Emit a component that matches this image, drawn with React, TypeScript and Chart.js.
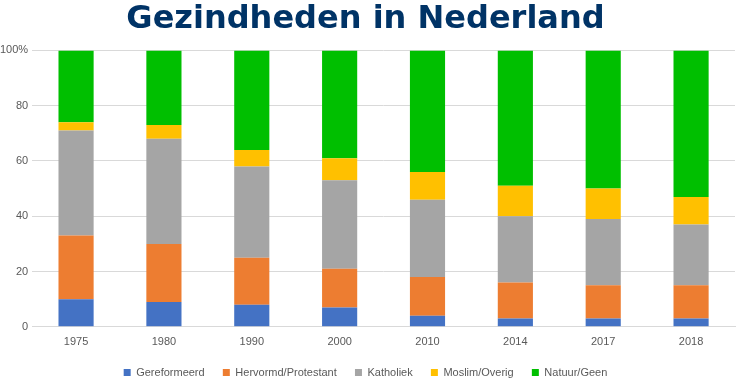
import React, { useEffect, useRef } from "react";
import { Chart, registerables } from "chart.js";

Chart.register(...registerables);

const categories = ["1975", "1980", "1990", "2000", "2010", "2014", "2017", "2018"];
const gereformeerd = [10, 9, 8, 7, 4, 3, 3, 3];
const hervormd = [23, 21, 17, 14, 14, 13, 12, 12];
const katholiek = [38, 38, 33, 32, 28, 24, 24, 22];
const moslim = [3, 5, 6, 8, 10, 11, 11, 10];
const natuur = [26, 27, 36, 39, 44, 49, 50, 53];
const seriesNames = ["Gereformeerd", "Hervormd/Protestant", "Katholiek", "Moslim/Overig", "Natuur/Geen"];
const seriesColors = ["#4472C4", "#ED7D31", "#A5A5A5", "#FFC000", "#00BF00"];
const titleText = "Gezindheden in Nederland";

export default function App() {
  const ref = useRef<HTMLCanvasElement | null>(null);
  useEffect(() => {
    document.body.style.margin = "0";
    if (!ref.current) return;
    const values = [gereformeerd, hervormd, katholiek, moslim, natuur];
    const chart = new Chart(ref.current, {
      type: "bar",
      data: {
        labels: categories,
        datasets: values.map((v, i) => ({
          label: seriesNames[i],
          data: v,
          backgroundColor: seriesColors[i],
          borderWidth: 0,
          categoryPercentage: 1,
          barPercentage: 0.4,
        })),
      },
      options: {
        animation: false,
        responsive: false,
        maintainAspectRatio: false,
        layout: { padding: { left: -4, right: 1, top: 0, bottom: -3 } },
        plugins: {
          title: {
            display: true,
            text: titleText,
            color: "#003366",
            font: { family: "DejaVu Sans", size: 32, weight: "bold" },
            padding: { top: 0, bottom: 12 },
          },
          legend: {
            position: "bottom",
            labels: {
              boxWidth: 7,
              boxHeight: 7,
              padding: 9,
              color: "#595959",
              font: { family: "Liberation Sans", size: 11 },
              generateLabels: (c: any) => {
                const items = Chart.defaults.plugins.legend.labels.generateLabels(c);
                return items.map((it: any, i: number) => ({
                  ...it,
                  text: i < items.length - 1 ? it.text + "   " : it.text,
                  lineWidth: 0,
                }));
              },
            },
          },
          tooltip: { enabled: false },
        },
        scales: {
          x: {
            stacked: true,
            grid: { display: false, drawTicks: false },
            border: { display: true, color: "#D9D9D9" },
            ticks: { color: "#595959", font: { family: "Liberation Sans", size: 11 }, padding: 9 },
          },
          y: {
            stacked: true,
            min: 0,
            max: 100,
            grid: { color: "#D9D9D9", drawTicks: false },
            border: { display: false },
            ticks: {
              stepSize: 20,
              color: "#595959",
              font: { family: "Liberation Sans", size: 11 },
              padding: 4,
              callback: (v: any) => (Number(v) === 100 ? "100%" : String(v)),
            },
          },
        },
      },
    });
    return () => chart.destroy();
  }, []);
  return (
    <div style={{ position: "fixed", left: 0, top: 0, width: 736, height: 385 }}>
      <canvas ref={ref} width={736} height={385} />
    </div>
  );
}
